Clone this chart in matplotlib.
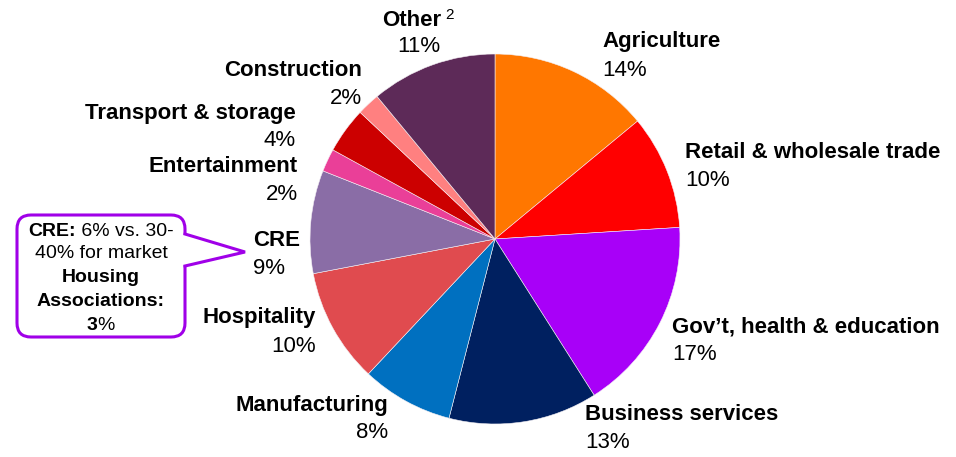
import matplotlib.pyplot as plt
from matplotlib.patches import FancyBboxPatch, Polygon

plt.rcParams['font.family'] = ['Liberation Sans', 'DejaVu Sans']

# Loan book split by sector (%), clockwise from 12 o'clock
sectors = ['Agriculture', 'Retail & wholesale trade', 'Gov\u2019t, health & education',
           'Business services', 'Manufacturing', 'Hospitality', 'CRE',
           'Entertainment', 'Transport & storage', 'Construction', 'Other']
shares = [14, 10, 17, 13, 8, 10, 9, 2, 4, 2, 11]
colors = ['#FF7700', '#FF0000', '#A800F8', '#002060', '#0070C0', '#E04B4F',
          '#8A6DA6', '#EA3F98', '#CC0000', '#FF8080', '#5D2A58']

W, H = 956, 457
fig = plt.figure(figsize=(W / 100, H / 100), dpi=100)
ax = fig.add_axes([0, 0, 1, 1])

cx, cy, r = 495, H - 239, 185
ax.pie(shares, colors=colors, startangle=90, counterclock=False,
       center=(cx, cy), radius=r, frame=True,
       wedgeprops=dict(edgecolor='#f4f0f4', linewidth=0.4))
ax.set_xlim(0, W)
ax.set_ylim(0, H)
ax.axis('off')

# label anchor (x, y of name line in pixels from top) and alignment
label_pos = {
    'Agriculture': (602, 42, 'left'),
    'Retail & wholesale trade': (685, 152, 'left'),
    'Gov\u2019t, health & education': (672, 327, 'left'),
    'Business services': (585, 415, 'left'),
    'Manufacturing': (388, 405, 'right'),
    'Hospitality': (316, 318, 'right'),
    'CRE': (253, 240, 'left'),
    'Entertainment': (298, 166, 'right'),
    'Transport & storage': (296, 113, 'right'),
    'Construction': (362, 70, 'right'),
}
fs = 16
for name, val in zip(sectors, shares):
    if name == 'Other':
        continue
    x, y, ha = label_pos[name]
    ax.text(x, H - y, name, ha=ha, va='center', fontsize=fs, fontweight='bold')
    ax.text(x, H - y - 28, f'{val}%', ha=ha, va='center', fontsize=fs)

ax.text(382, H - 21, 'Other', ha='left', va='center', fontsize=fs, fontweight='bold')
ax.text(445, H - 15, '2', ha='left', va='center', fontsize=11)
ax.text(419, H - 47, f'{shares[-1]}%', ha='center', va='center', fontsize=fs)

# callout box
purple = '#A000E8'
box = FancyBboxPatch((17 + 14, H - 337 + 14), 168 - 28, 122 - 28,
                     boxstyle='round,pad=14', facecolor='white',
                     edgecolor=purple, linewidth=2.2, zorder=3)
ax.add_patch(box)
ax.add_patch(Polygon([(182, H - 234), (245, H - 252), (182, H - 266)],
                     closed=True, facecolor='white', edgecolor='none', zorder=4))
ax.plot([185, 245, 185], [H - 234, H - 252, H - 266], color=purple,
        linewidth=2.2, solid_joinstyle='miter', zorder=5)


def mixed_line(y, parts, fsize):
    """Centre a line made of (text, weight) pieces on x=101."""
    fig.canvas.draw()
    rend = fig.canvas.get_renderer()
    items = [ax.text(0, y, t, fontsize=fsize, fontweight=w, va='center',
                     ha='left', zorder=6) for t, w in parts]
    widths = [it.get_window_extent(rend).width for it in items]
    x = 101 - sum(widths) / 2
    for it, wd in zip(items, widths):
        it.set_x(x)
        x += wd


fs2 = 14
mixed_line(H - 231, [('CRE:', 'bold'), (' 6% vs. 30-', 'normal')], fs2)
mixed_line(H - 254, [('40% for market', 'normal')], fs2)
mixed_line(H - 278, [('Housing', 'bold')], fs2)
mixed_line(H - 301, [('Associations:', 'bold')], fs2)
mixed_line(H - 325, [('3', 'bold'), ('%', 'normal')], fs2)

fig.savefig('out.png', dpi=100)
